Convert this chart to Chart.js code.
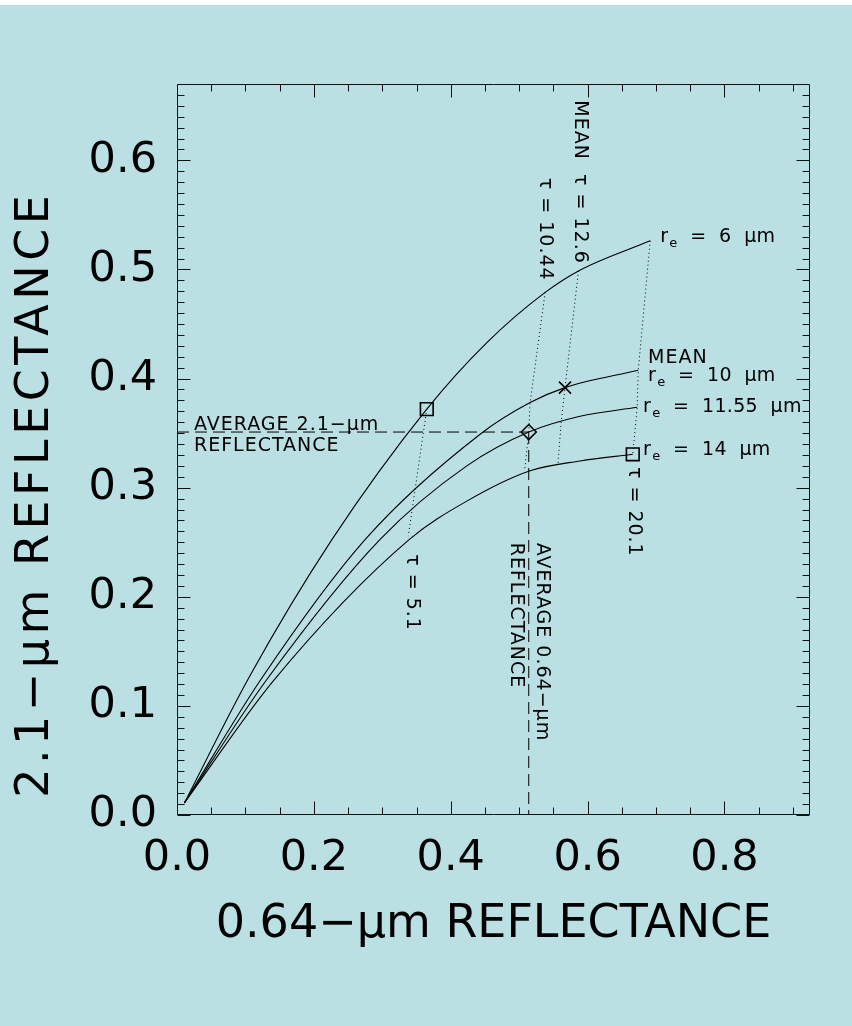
<!DOCTYPE html>
<html>
<head>
<meta charset="utf-8">
<script src="https://cdn.jsdelivr.net/npm/chart.js@4.4.1/dist/chart.umd.min.js"></script>
<style>
  html, body { margin: 0; padding: 0; background: #bbe0e3; }
  #wrap { width: 852px; height: 1026px; background: linear-gradient(#fff 0 5px, #bbe0e3 5px); }
  canvas { display: block; }
</style>
</head>
<body>
<div id="wrap"><canvas id="reflChart" width="852" height="1026"></canvas></div>
<script>
// curves of constant effective radius: [0.64-um refl, 2.1-um refl]
const re6 = [[0.0107, 0.011], [0.106, 0.127], [0.2266, 0.2526], [0.365, 0.372], [0.4528, 0.433], [0.538, 0.479], [0.5867, 0.4987], [0.6915, 0.5263]];
const re10 = [[0.0107, 0.011], [0.1223, 0.124], [0.2751, 0.2526], [0.443, 0.349], [0.516, 0.378], [0.567, 0.3917], [0.674, 0.4076]];
const re1155 = [[0.0107, 0.011], [0.131, 0.124], [0.2968, 0.2526], [0.4235, 0.320], [0.514, 0.351], [0.589, 0.3655], [0.6725, 0.3737]];
const re14 = [[0.0107, 0.011], [0.1408, 0.123], [0.3396, 0.2526], [0.4235, 0.2877], [0.516, 0.3155], [0.589, 0.3245], [0.666, 0.3306]];

// lines of constant optical thickness
const tau51 = [[0.365, 0.372], [0.338, 0.2556]];
const tau1044 = [[0.538, 0.479], [0.516, 0.378], [0.514, 0.351], [0.508, 0.316]];
const tau126 = [[0.5867, 0.4987], [0.567, 0.3917], [0.5614, 0.360], [0.5566, 0.3215]];
const tau201 = [[0.6915, 0.5263], [0.674, 0.4076], [0.6725, 0.3737], [0.666, 0.3306]];

// average reflectances (dashed guides)
const avg21 = [[0, 0.351], [0.514, 0.351]];
const avg064 = [[0.514, 0.351], [0.514, 0]];

// markers
const squarePts = [[0.365, 0.372], [0.666, 0.3306]];
const diamondPts = [[0.514, 0.351]];
const crossPts = [[0.567, 0.3917]];

// axis ticks
const xTicks = [0, 0.2, 0.4, 0.6, 0.8];
const yTicks = [0, 0.1, 0.2, 0.3, 0.4, 0.5, 0.6];
const xMinor = [0.05, 0.1, 0.15, 0.25, 0.3, 0.35, 0.45, 0.5, 0.55, 0.65, 0.7, 0.75, 0.85, 0.9];
const yMinor = [];
for (let i = 1; i < 67; i++) if (i % 10) yMinor.push(i / 100);

const FONT = "'DejaVu Sans', sans-serif";
const yTitle = '2.1−μm REFLECTANCE';

// text annotations, anchored in data coordinates
const notes = [
    { text: 'MEAN  τ = 12.6', at: [0.589, 0.655], rotate: true },
    { text: 'τ = 10.44', at: [0.538, 0.584], rotate: true },
    { text: 'τ = 5.1', at: [0.343, 0.239], rotate: true },
    { text: 'τ = 20.1', at: [0.668, 0.319], rotate: true },
    { text: 'AVERAGE 0.64−μm', at: [0.533, 0.2496], rotate: true },
    { text: 'REFLECTANCE', at: [0.495, 0.2496], rotate: true },
    { text: 'AVERAGE 2.1−μm', at: [0.0248, 0.3529] },
    { text: 'REFLECTANCE', at: [0.0248, 0.334] },
    { text: 'MEAN', at: [0.6883, 0.4143] },
    { text: '  =  6  μm', at: [0.706, 0.5254], re: true },
    { text: '  =  10  μm', at: [0.6883, 0.3978], re: true },
    { text: '  =  11.55  μm', at: [0.681, 0.3694], re: true },
    { text: '  =  14  μm', at: [0.681, 0.330], re: true }
];

function curve(pts) {
    return { data: pts, showLine: true, pointRadius: 0, borderColor: '#000', borderWidth: 1.1, cubicInterpolationMode: 'monotone' };
}
function dotted(pts) {
    return { data: pts, showLine: true, pointRadius: 0, borderColor: '#000', borderWidth: 1, borderDash: [1, 3], tension: 0 };
}
function dashed(pts) {
    return { data: pts, showLine: true, pointRadius: 0, borderColor: '#000', borderWidth: 1, borderDash: [12, 6], tension: 0 };
}
function marker(pts, style, r) {
    return { data: pts, showLine: false, pointStyle: style, pointRadius: r, pointBorderColor: '#000', pointBackgroundColor: 'rgba(0,0,0,0)', pointBorderWidth: 1.6 };
}

// frame and tick marks (ticks point inward, on all four sides)
const frameTicks = {
    id: 'frameTicks',
    afterDatasetsDraw(chart) {
        const { ctx, chartArea: a, scales: { x, y } } = chart;
        ctx.save();
        ctx.strokeStyle = '#111';
        ctx.lineWidth = 1;
        ctx.beginPath();
        const L = Math.round(a.left) + 0.5, R = Math.round(a.right) - 0.5;
        const T = Math.round(a.top) + 0.5, B = Math.round(a.bottom) - 0.5;
        ctx.rect(L, T, R - L, B - T);
        const xt = (v, len) => {
            const p = Math.round(x.getPixelForValue(v)) + 0.5;
            ctx.moveTo(p, B); ctx.lineTo(p, B - len);
            ctx.moveTo(p, T); ctx.lineTo(p, T + len);
        };
        const yt = (v, len) => {
            const p = Math.round(y.getPixelForValue(v)) + 0.5;
            ctx.moveTo(L, p); ctx.lineTo(L + len, p);
            ctx.moveTo(R, p); ctx.lineTo(R - len, p);
        };
        xTicks.forEach(v => xt(v, 13));
        xMinor.forEach(v => xt(v, 7));
        yTicks.forEach(v => yt(v, 13));
        yMinor.forEach(v => yt(v, 7));
        ctx.stroke();
        ctx.restore();
    }
};

const notesPlugin = {
    id: 'notes',
    afterDraw(chart) {
        const { ctx, scales: { x, y } } = chart;
        ctx.save();
        ctx.fillStyle = '#000';

        // y axis title, spaced out like the original
        ctx.save();
        ctx.translate(36, y.getPixelForValue(0.294));
        ctx.rotate(-Math.PI / 2);
        ctx.font = '46px ' + FONT;
        ctx.letterSpacing = '4.5px';
        ctx.textAlign = 'center';
        ctx.textBaseline = 'middle';
        ctx.fillText(yTitle, 0, 0);
        ctx.restore();

        notes.forEach(n => {
            ctx.save();
            ctx.translate(x.getPixelForValue(n.at[0]), y.getPixelForValue(n.at[1]));
            ctx.font = '19px ' + FONT;
            ctx.letterSpacing = n.re ? '0.3px' : '1px';
            ctx.textAlign = 'left';
            if (n.rotate) {
                ctx.rotate(Math.PI / 2);
                ctx.textBaseline = 'middle';
            } else {
                ctx.textBaseline = 'alphabetic';
            }
            if (n.re) {
                ctx.fillText('r', 0, 0);
                let w = ctx.measureText('r').width;
                ctx.font = '13px ' + FONT;
                ctx.fillText('e', w + 1, 5);
                w += ctx.measureText('e').width + 1;
                ctx.font = '19px ' + FONT;
                ctx.fillText(n.text, w, 0);
            } else {
                ctx.fillText(n.text, 0, 0);
            }
            ctx.restore();
        });
        ctx.restore();
    }
};

Chart.defaults.color = '#000';

new Chart(document.getElementById('reflChart'), {
    type: 'scatter',
    data: {
        datasets: [
            curve(re6), curve(re10), curve(re1155), curve(re14),
            dotted(tau51), dotted(tau1044), dotted(tau126), dotted(tau201),
            dashed(avg21), dashed(avg064),
            marker(squarePts, 'rect', 9), marker(diamondPts, 'rectRot', 7.5), marker(crossPts, 'crossRot', 8.5)
        ]
    },
    options: {
        responsive: false,
        animation: false,
        layout: { padding: { top: 84, right: 42, left: 0, bottom: 0 } },
        plugins: { legend: { display: false }, tooltip: { enabled: false } },
        scales: {
            x: {
                type: 'linear', min: 0, max: 0.925,
                afterBuildTicks(s) { s.ticks = xTicks.map(v => ({ value: v })); },
                afterFit(s) { s.height = 211; },
                grid: { display: false, drawTicks: false },
                border: { display: false },
                ticks: { padding: 18, font: { family: FONT, size: 43 }, color: '#000', callback: v => Number(v).toFixed(1) },
                title: { display: true, text: '0.64−μm REFLECTANCE', color: '#000', font: { family: FONT, size: 46 }, padding: { top: 0, bottom: 73 } }
            },
            y: {
                type: 'linear', min: 0, max: 0.67,
                afterBuildTicks(s) { s.ticks = yTicks.map(v => ({ value: v })); },
                afterFit(s) { s.width = 177; },
                grid: { display: false, drawTicks: false },
                border: { display: false },
                ticks: { padding: 20, font: { family: FONT, size: 43 }, color: '#000', callback: v => Number(v).toFixed(1) },
                title: { display: false }
            }
        }
    },
    plugins: [frameTicks, notesPlugin]
});
</script>
</body>
</html>
